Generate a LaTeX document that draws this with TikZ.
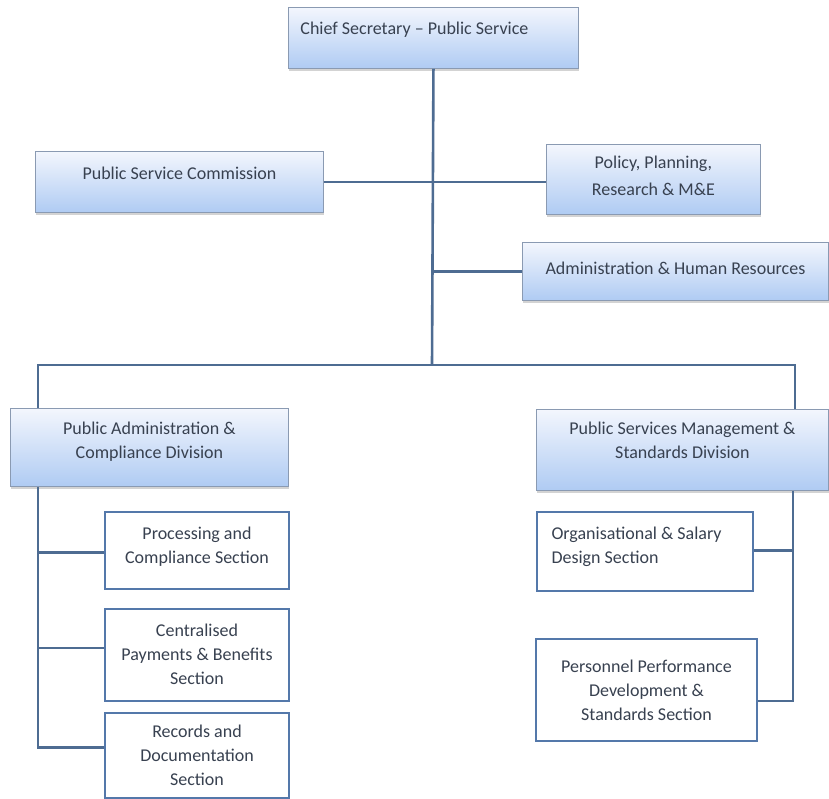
\documentclass[tikz,border=0pt]{standalone}
\usepackage{fontspec}
\setmainfont{Carlito}
\usetikzlibrary{shadows}
\definecolor{gtop}{HTML}{F3F6FD}
\definecolor{gbot}{HTML}{AFCBF3}
\definecolor{boxedge}{HTML}{8A9AB2}
\definecolor{secedge}{HTML}{5478AA}
\definecolor{linkc}{HTML}{4E6C92}
\definecolor{txt}{HTML}{384150}
\newcommand{\boxtxt}[2]{\begin{tabular}[b]{@{}#1@{}}#2\end{tabular}}
\tikzset{
  gbox/.style={draw=boxedge, line width=0.9pt, top color=gtop, bottom color=gbot,
    drop shadow={opacity=0.35, shadow xshift=1pt, shadow yshift=-2.5pt},
    anchor=north west, inner sep=0pt, text=txt,
    font=\fontsize{18}{24}\selectfont},
  sbox/.style={draw=secedge, line width=2pt, fill=white,
    anchor=north west, inner sep=0pt, text=txt,
    font=\fontsize{18}{24}\selectfont},
  tp/.style 2 args={text height=#1pt, text depth=#2pt},
  link/.style={draw=linkc, line width=2.6pt}
}
\begin{document}
\begin{tikzpicture}[x=1pt,y=-1pt]
\useasboundingbox (0,0) rectangle (829,799);
% top level boxes
\node[gbox, minimum width=290pt, minimum height=61pt, tp={24.5}{31.5}] (top) at (288,7)
  {\makebox[266pt][l]{\boxtxt{l}{Chief Secretary -- Public Service}}};
\node[gbox, minimum width=288pt, minimum height=61pt, tp={25.5}{30.5}] (psc) at (35,151)
  {\boxtxt{c}{Public Service Commission}};
\node[gbox, minimum width=214pt, minimum height=70pt, tp={44}{12}] (pol) at (546,144)
  {\boxtxt{c}{Policy, Planning,\\[3pt]Research \& M\&E}};
\node[gbox, minimum width=306pt, minimum height=58pt, tp={31}{25}] (adm) at (522,242)
  {\boxtxt{c}{Administration \& Human Resources}};
\node[gbox, minimum width=278pt, minimum height=78pt, tp={39.5}{16.5}] (divL) at (10,408)
  {\boxtxt{c}{Public Administration \&\\Compliance Division}};
\node[gbox, minimum width=292pt, minimum height=81pt, tp={37}{19}] (divR) at (536,409)
  {\boxtxt{c}{Public Services Management \&\\Standards Division}};
% section boxes
\node[sbox, minimum width=184pt, minimum height=77pt, tp={40.5}{15.5}] (proc) at (104,511)
  {\boxtxt{c}{Processing and\\Compliance Section}};
\node[sbox, minimum width=184pt, minimum height=92pt, tp={58}{-2}] (cent) at (104,608)
  {\boxtxt{c}{Centralised\\Payments \& Benefits\\Section}};
\node[sbox, minimum width=184pt, minimum height=85pt, tp={60.5}{-4.5}] (rec) at (104,712)
  {\boxtxt{c}{Records and\\Documentation\\Section}};
\node[sbox, minimum width=216pt, minimum height=79pt, tp={39.5}{16.5}] (org) at (536,511)
  {\makebox[187pt][l]{\boxtxt{l}{Organisational \& Salary\\Design Section}}};
\node[sbox, minimum width=221pt, minimum height=102pt, tp={60}{-4}] (per) at (535,638)
  {\boxtxt{c}{Personnel Performance\\Development \&\\Standards Section}};
% coordinates
\coordinate (bus) at (432,365);
\coordinate (busL) at (38,365);
\coordinate (busR) at (795,365);
\coordinate (spR) at (793,0);
\coordinate (jRec) at ([yshift=8pt]rec.west);
\coordinate (jProc) at ([yshift=-2pt]proc.west);
\coordinate (jCent) at ([yshift=7pt]cent.west);
\coordinate (jPer) at ([yshift=-11pt]per.east);
\coordinate (jOrg) at ([yshift=1pt]org.east);
% connectors
\draw[link] (top.south) -- (bus);
\draw[link] (psc.east) -- (psc.east -| pol.west);
\draw[link] (adm.west) -- (adm.west -| top.south);
\draw[link] (busL |- divL.north) -- (busL) -- (busR) -- (busR |- divR.north);
\draw[link] (busL |- divL.south) -- (busL |- jRec) -- (jRec);
\draw[link] (busL |- jProc) -- (jProc);
\draw[link] (busL |- jCent) -- (jCent);
\draw[link] (spR |- divR.south) -- (spR |- jPer) -- (jPer);
\draw[link] (jOrg) -- (spR |- jOrg);
\end{tikzpicture}
\end{document}
